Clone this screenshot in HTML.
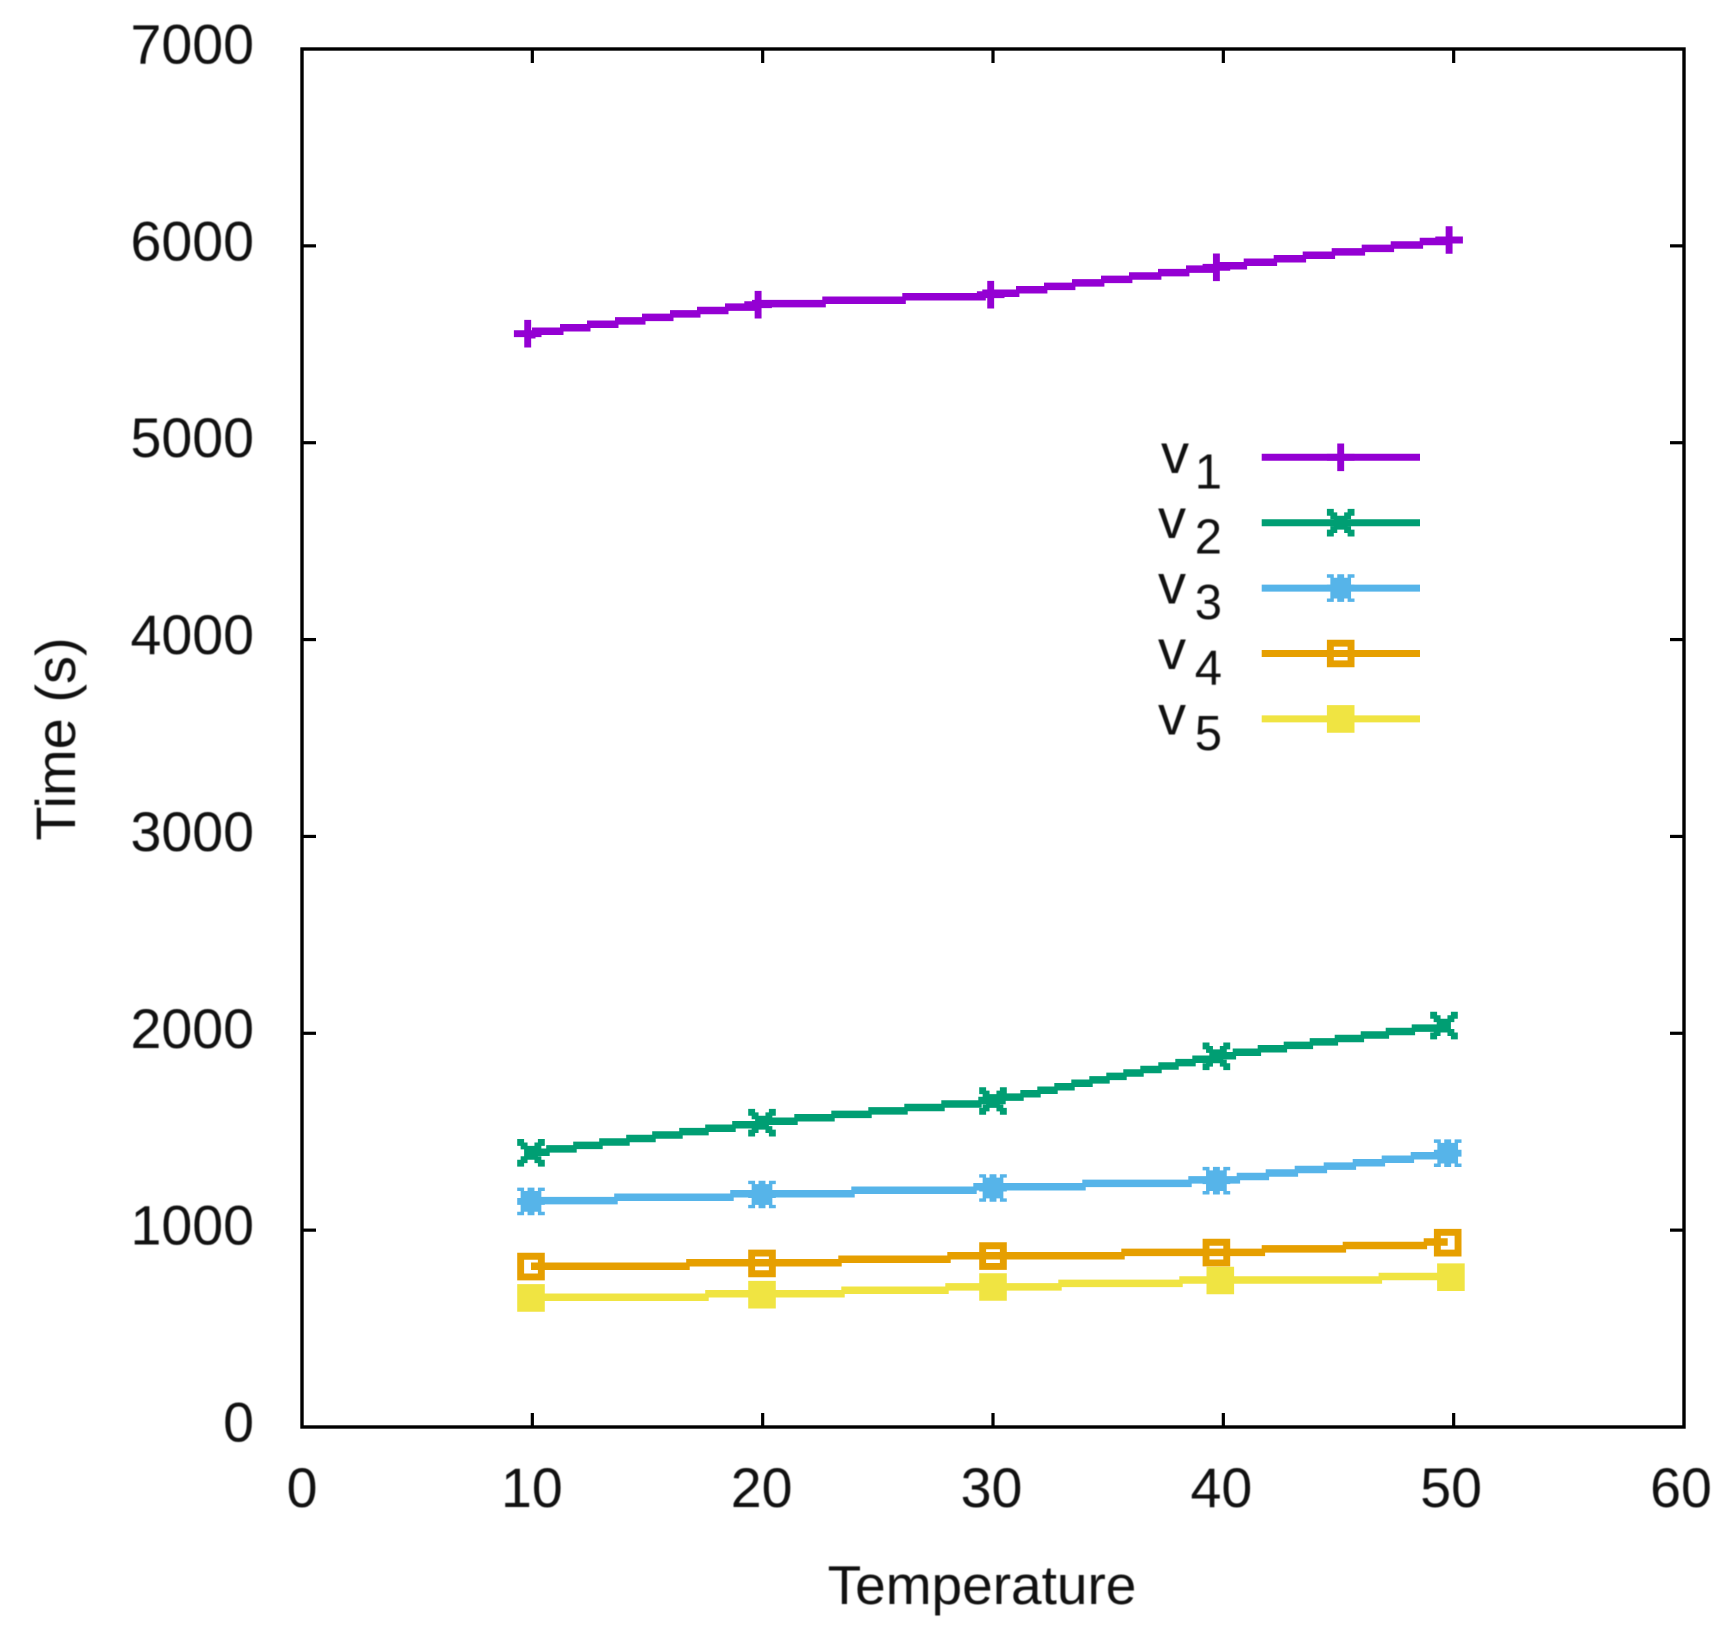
<!DOCTYPE html>
<html lang="en">
<head>
<meta charset="utf-8">
<title>Time vs Temperature</title>
<style>
html,body{margin:0;padding:0;background:#fff;}
svg{display:block;}
text{font-family:"Liberation Sans",Arial,sans-serif;fill:#111;filter:blur(0.55px);}
</style>
</head>
<body>
<svg id="chart" xmlns="http://www.w3.org/2000/svg" width="1723" height="1644" viewBox="0 0 1723 1644">
  <rect x="0" y="0" width="1723" height="1644" fill="#ffffff"></rect>
  <g id="ticks"></g>
  <g id="series"></g>
  <g id="legend"></g>
  <rect x="302" y="49" width="1382" height="1378" fill="none" stroke="#000" stroke-width="3.4"></rect>
  <text x="982" y="1604" font-size="55" text-anchor="middle">Temperature</text>
  <text transform="translate(75,739) rotate(-90)" font-size="56" text-anchor="middle">Time (s)</text>
</svg>
<script>
const xTicks = [0, 10, 20, 30, 40, 50, 60];
const yTicks = [0, 1000, 2000, 3000, 4000, 5000, 6000, 7000];

const v1X = [9.8, 19.8, 29.9, 39.7, 49.8];
const v1Y = [5554, 5701, 5752, 5891, 6030];
const v2X = [9.94, 19.97, 30, 39.7, 49.58];
const v2Y = [1393, 1546, 1656, 1883, 2039];
const v3X = [9.94, 19.97, 30, 39.7, 49.74];
const v3Y = [1146, 1181, 1214, 1251, 1391];
const v4X = [9.94, 19.97, 30, 39.7, 49.74];
const v4Y = [815, 831, 868, 886, 936];
const v5X = [9.94, 19.97, 30, 39.87, 49.88];
const v5Y = [656, 672, 711, 744, 761];

const seriesNames = ['v1', 'v2', 'v3', 'v4', 'v5'];
const seriesSubscripts = ['1', '2', '3', '4', '5'];
const seriesXs = [v1X, v2X, v3X, v4X, v5X];
const seriesYs = [v1Y, v2Y, v3Y, v4Y, v5Y];
const seriesColors = ['#9400d3', '#009e73', '#56b4e9', '#e69f00', '#f0e442'];
const seriesMarkers = ['plus', 'cross', 'star', 'open-square', 'filled-square'];

const NS = 'http://www.w3.org/2000/svg';
const plot = {left: 302, right: 1684, top: 49, bottom: 1427, xMax: 60, yMax: 7000};
function xScale(v) { return plot.left + (v / plot.xMax) * (plot.right - plot.left); }
function yScale(v) { return plot.bottom - (v / plot.yMax) * (plot.bottom - plot.top); }
function make(tag, parent) {
  const el = document.createElementNS(NS, tag);
  parent.appendChild(el);
  return el;
}

const ticksGroup = document.getElementById('ticks');
const TICK = 14;
xTicks.forEach(function (t) {
  const x = xScale(t);
  if (t > 0 && t < plot.xMax) {
    const tickB = make('path', ticksGroup);
    
    
    tickB.setAttribute('d', 'M' + x + ' ' + plot.bottom + 'V' + (plot.bottom - TICK));
    tickB.setAttribute('stroke', '#000');
    tickB.setAttribute('stroke-width', '3.2');
    const tickT = make('path', ticksGroup);
    
    
    tickT.setAttribute('d', 'M' + x + ' ' + plot.top + 'V' + (plot.top + TICK));
    tickT.setAttribute('stroke', '#000');
    tickT.setAttribute('stroke-width', '3.2');
  }
  const label = make('text', ticksGroup);
  
  
  label.setAttribute('x', x - t * 0.05);
  label.setAttribute('y', 1507);
  label.setAttribute('font-size', '55.5');
  label.setAttribute('text-anchor', 'middle');
  label.textContent = String(t);
});
yTicks.forEach(function (t) {
  const y = yScale(t);
  if (t > 0 && t < plot.yMax) {
    const tickL = make('path', ticksGroup);
    
    
    tickL.setAttribute('d', 'M' + plot.left + ' ' + y + 'H' + (plot.left + TICK));
    tickL.setAttribute('stroke', '#000');
    tickL.setAttribute('stroke-width', '3.2');
    const tickR = make('path', ticksGroup);
    
    
    tickR.setAttribute('d', 'M' + plot.right + ' ' + y + 'H' + (plot.right - TICK));
    tickR.setAttribute('stroke', '#000');
    tickR.setAttribute('stroke-width', '3.2');
  }
  const label = make('text', ticksGroup);
  
  
  label.setAttribute('x', 254);
  label.setAttribute('y', y + 14.5);
  label.setAttribute('font-size', '55.5');
  label.setAttribute('text-anchor', 'end');
  label.textContent = String(t);
});

/* The reference is an upscaled low-resolution raster: lines are stair-stepped with a one-cell overlap. */
const CELL = 3.45;
function stairPath(xs, ys) {
  let d = '';
  let lastQ = null;
  for (let i = 0; i < xs.length - 1; i++) {
    const x0 = xScale(xs[i]);
    const x1 = xScale(xs[i + 1]);
    const y0 = yScale(ys[i]);
    const y1 = yScale(ys[i + 1]);
    for (let x = x0; x < x1; x += 1) {
      const y = y0 + (y1 - y0) * (x - x0) / (x1 - x0);
      const q = Math.round(y / CELL) * CELL;
      if (q !== lastQ) {
        if (lastQ !== null) d += 'H' + (x + CELL / 2).toFixed(1);
        d += 'M' + (lastQ === null ? x : x - CELL / 2).toFixed(1) + ' ' + q.toFixed(1);
        lastQ = q;
      }
      d += 'H' + Math.min(x + 1, x1).toFixed(1);
    }
  }
  return d;
}

const markerGlyphs = {
  'plus': ['...##...', '...##...', '...##...', '########', '########', '...##...', '...##...', '...##...'],
  'cross': ['##....##', '###..###', '.######.', '..####..', '..####..', '.######.', '###..###', '##....##'],
  'star': ['##.##.##', '.######.', '.######.', '########', '########', '.######.', '.######.', '##.##.##'],
  'open-square': ['########', '########', '##....##', '##....##', '##....##', '##....##', '########', '########'],
  'filled-square': ['########', '########', '########', '########', '########', '########', '########', '########']
};
function markerPath(kind) {
  const rows = markerGlyphs[kind];
  let d = '';
  rows.forEach(function (row, r) {
    const top = (r - 4) * CELL;
    let c = 0;
    while (c < row.length) {
      if (row[c] === '#') {
        let e = c;
        while (e < row.length && row[e] === '#') e++;
        d += 'M' + ((c - 4) * CELL).toFixed(2) + ' ' + top.toFixed(2) + 'h' + ((e - c) * CELL).toFixed(2) + 'v' + CELL + 'h' + (-(e - c) * CELL).toFixed(2) + 'z';
        c = e;
      } else {
        c++;
      }
    }
  });
  return d;
}
function drawMarker(parent, kind, color, cx, cy) {
  const m = make('path', parent);
  
  
  m.setAttribute('d', markerPath(kind));
  m.setAttribute('transform', 'translate(' + cx.toFixed(1) + ',' + cy.toFixed(1) + ')');
  m.setAttribute('fill', color);
}

const seriesGroup = document.getElementById('series');
seriesNames.forEach(function (name, i) {
  const g = make('g', seriesGroup);
  
  
  const line = make('path', g);
  
  
  line.setAttribute('d', stairPath(seriesXs[i], seriesYs[i]));
  line.setAttribute('fill', 'none');
  line.setAttribute('stroke', seriesColors[i]);
  line.setAttribute('stroke-width', '7.5');
  seriesXs[i].forEach(function (xv, j) {
    drawMarker(g, seriesMarkers[i], seriesColors[i], xScale(xv), yScale(seriesYs[i][j]));
  });
});

const legendGroup = document.getElementById('legend');
seriesNames.forEach(function (name, i) {
  const rowY = 457.3 + i * 65.4;
  const row = make('g', legendGroup);
  
  
  const v = make('text', row);
  
  
  v.setAttribute('x', i === 0 ? 1161 : 1158);
  v.setAttribute('y', rowY + 15.5);
  v.setAttribute('font-size', '56');
  v.textContent = 'v';
  const sub = make('text', row);
  
  
  sub.setAttribute('x', 1222);
  sub.setAttribute('y', rowY + 31);
  sub.setAttribute('font-size', '49');
  sub.setAttribute('text-anchor', 'end');
  sub.textContent = seriesSubscripts[i];
  const sample = make('path', row);
  
  
  sample.setAttribute('d', 'M1261.7 ' + rowY + 'H1420');
  sample.setAttribute('stroke', seriesColors[i]);
  sample.setAttribute('stroke-width', '7');
  drawMarker(row, seriesMarkers[i], seriesColors[i], 1340.7, rowY);
});
</script>
</body>
</html>
